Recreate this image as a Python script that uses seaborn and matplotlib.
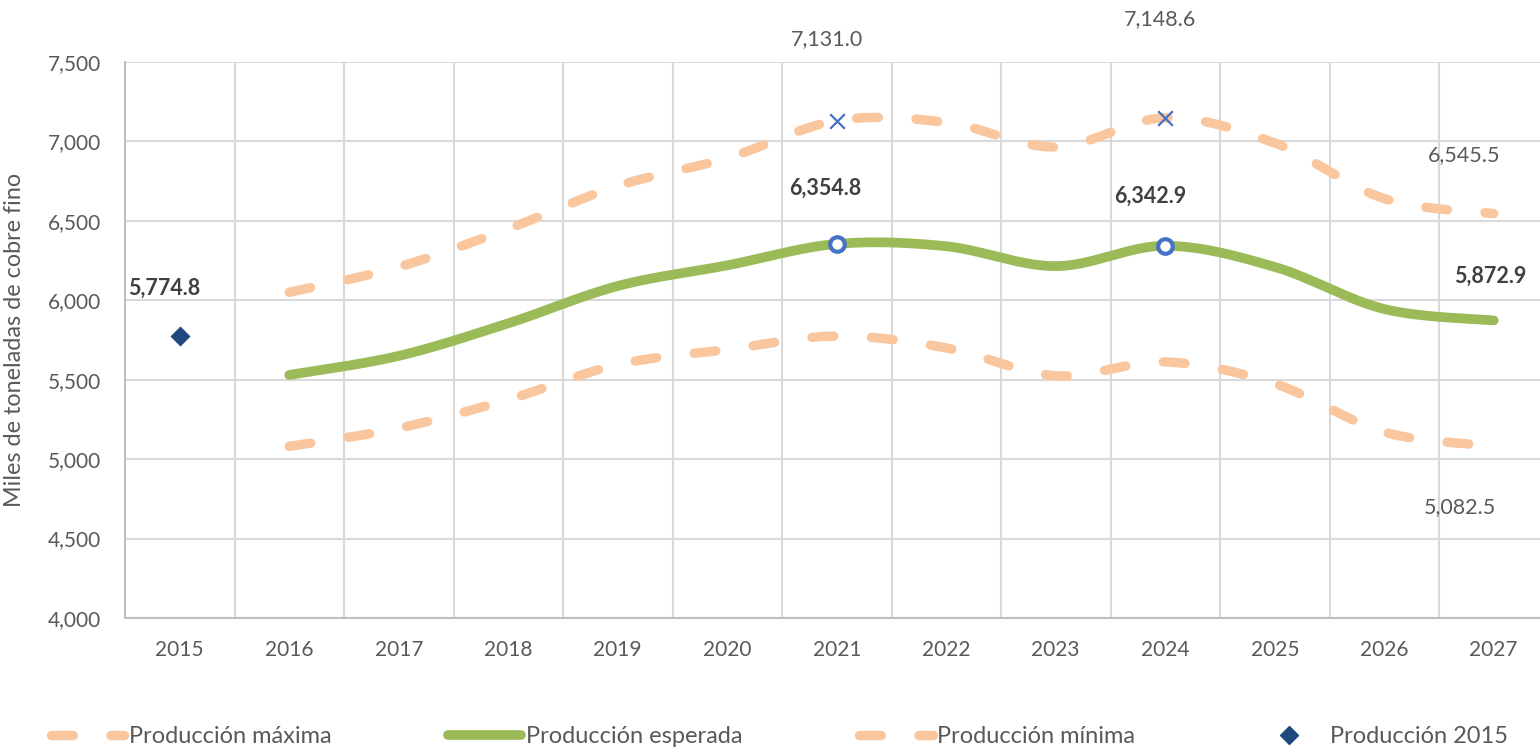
import numpy as np
import matplotlib.pyplot as plt
import seaborn as sns
from matplotlib.lines import Line2D

# Data
years = ["2015", "2016", "2017", "2018", "2019", "2020", "2021",
         "2022", "2023", "2024", "2025", "2026", "2027"]
prod_max = [None, 6050, 6210, 6450, 6720, 6895, 7131.0,
            7120, 6965, 7148.6, 6990, 6640, 6545.5]
prod_esp = [None, 5530, 5650, 5855, 6090, 6220, 6354.8,
            6340, 6215, 6342.9, 6210, 5945, 5872.9]
prod_min = [None, 5080, 5195, 5375, 5595, 5690, 5775,
            5700, 5525, 5612, 5475, 5170, 5082.5]
prod_2015 = 5774.8

peach = "#F9C69E"
green = "#9BBB59"
blue = "#4472C4"
navy = "#1F497D"
txt = "#595959"


def smooth(xs, ys, n=40):
    # excel style smoothed line (bezier through the points)
    p = np.column_stack([xs, ys]).astype(float)
    p = np.vstack([p[0], p, p[-1]])
    t = np.linspace(0, 1, n)[:, None]
    out = []
    for i in range(1, len(p) - 2):
        p0, p1, p2, p3 = p[i - 1], p[i], p[i + 1], p[i + 2]
        c1 = p1 + (p2 - p0) / 6
        c2 = p2 - (p3 - p1) / 6
        seg = ((1 - t) ** 3) * p1 + 3 * ((1 - t) ** 2) * t * c1 + 3 * (1 - t) * t ** 2 * c2 + t ** 3 * p2
        out.append(seg)
    out = np.vstack(out)
    return out[:, 0], out[:, 1]


sns.set_theme(style="white")
plt.rcParams["font.family"] = ["Lato", "DejaVu Sans"]

fig = plt.figure(figsize=(15.4, 7.51), dpi=100)
ax = fig.add_axes([125 / 1540, 133 / 751, 1423.5 / 1540, 556 / 751])

idx = np.arange(len(years))
valid = idx[1:]

dash = (0, (2.3, 4.0))
for series in (prod_max, prod_min):
    sx, sy = smooth(valid, np.array(series[1:], dtype=float))
    ax.plot(sx, sy, color=peach, lw=6.8, linestyle=dash,
            dash_capstyle="round", solid_capstyle="round", zorder=2)

sx, sy = smooth(valid, np.array(prod_esp[1:], dtype=float))
ax.plot(sx, sy, color=green, lw=7, solid_capstyle="round", zorder=3)

# markers
hi = [6, 9]
sns.scatterplot(x=[idx[i] for i in hi], y=[prod_max[i] for i in hi], marker="x",
                s=110, color=blue, linewidth=1.6, ax=ax, zorder=4)
ax.scatter([idx[i] for i in hi], [prod_esp[i] for i in hi], s=110,
           facecolor="white", edgecolor=blue, linewidth=3, zorder=5)
sns.scatterplot(x=[0], y=[prod_2015], marker="D", s=90, color=navy,
                edgecolor=navy, ax=ax, zorder=5)

# data labels
fs = 15


def lab(x, y, dx, dy, bold=False):
    ax.annotate(f"{y:,.1f}", (x, y), xytext=(dx, dy), textcoords="offset pixels",
                ha="center", va="center", fontsize=15.5, color="#404040" if bold else txt,
                fontweight="bold" if bold else "normal", annotation_clip=False)


lab(6, prod_max[6], -10, 82)
lab(9, prod_max[9], -5, 99)
lab(12, prod_max[12], -30, 59)
lab(12, prod_min[12], -34, -61)
lab(6, prod_esp[6], -12, 56, bold=True)
lab(9, prod_esp[9], -15, 50, bold=True)
lab(12, prod_esp[12], -4, 44, bold=True)
lab(0, prod_2015, -16, 48, bold=True)

# axes
ax.set_xlim(-0.5, 12.5)
ax.set_ylim(4000, 7500)
ax.set_yticks(np.arange(4000, 7501, 500))
ax.set_yticklabels([f"{v:,}" for v in range(4000, 7501, 500)])
ax.set_xticks(idx)
ax.set_xticklabels(years)
ax.set_xticks(np.arange(-0.5, 12.6, 1), minor=True)
ax.grid(axis="y", color="#D9D9D9", lw=1.5)
ax.grid(axis="x", which="minor", color="#D9D9D9", lw=1.5)
ax.grid(axis="x", which="major", visible=False)
ax.tick_params(axis="both", which="both", length=0, labelsize=fs, labelcolor=txt)
ax.tick_params(axis="x", pad=16)
ax.tick_params(axis="y", pad=17)
for s in ("top", "right"):
    ax.spines[s].set_visible(False)
for s in ("left", "bottom"):
    ax.spines[s].set_color("#BFBFBF")
    ax.spines[s].set_linewidth(1.5)
ax.set_axisbelow(True)

ax.set_ylabel("Miles de toneladas de cobre fino", fontsize=16.8, color=txt)
ax.yaxis.set_label_coords(-0.0703, 0.5)

handles = [
    Line2D([], [], color=peach, lw=6.8, linestyle=dash, dash_capstyle="round"),
    Line2D([], [], color=green, lw=7, solid_capstyle="round"),
    Line2D([], [], color=peach, lw=6.8, linestyle=dash, dash_capstyle="round"),
    Line2D([], [], color=navy, marker="D", linestyle="none", markersize=9),
]
labels = ["Producción máxima", "Producción esperada", "Producción mínima", "Producción 2015"]
fig.legend(handles, labels, loc="lower left",
           bbox_to_anchor=(51 / 1540, 4 / 751, 1457 / 1540, 30 / 751),
           mode="expand", ncol=4, frameon=False, fontsize=17, labelcolor=txt,
           handlelength=3.1, handletextpad=0.2, borderaxespad=0, borderpad=0)

fig.savefig("out.png", dpi=100)
